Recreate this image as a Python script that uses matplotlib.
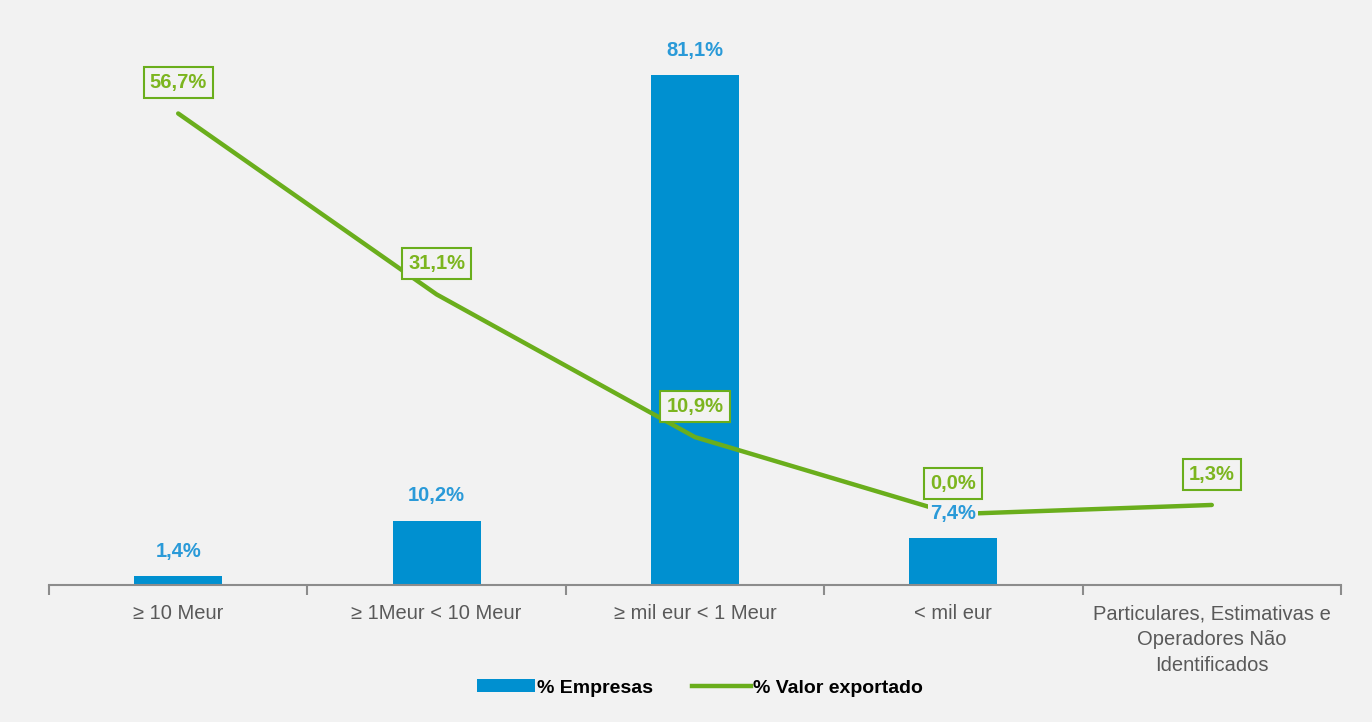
import matplotlib.pyplot as plt
import numpy as np
from matplotlib.patches import Patch
from matplotlib.lines import Line2D

# --- data ---
categories = ["\u2265 10 Meur", "\u2265 1Meur < 10 Meur", "\u2265 mil eur < 1 Meur", "< mil eur",
              "Particulares, Estimativas e\nOperadores N\u00e3o\nIdentificados"]
empresas = [1.4, 10.2, 81.1, 7.4, None]
valor_exportado = [56.7, 31.1, 10.9, 0.0, 1.3]

BG = "#f2f2f2"
BLUE = "#0090d0"
BLUE_TXT = "#2a9ad8"
GREEN = "#6aae1c"
GREEN_TXT = "#7cb51f"

plt.rcParams['font.family'] = ['Liberation Sans', 'DejaVu Sans']

fig = plt.figure(figsize=(13.72, 7.22), dpi=100, facecolor=BG)
ax = fig.add_axes([0.0357, 0.19, 0.9417, 0.783])
ax.set_facecolor(BG)
ax2 = ax.twinx()

x = np.arange(len(categories))
bar_x = [i for i, v in enumerate(empresas) if v is not None]
bar_v = [v for v in empresas if v is not None]
ax.bar(bar_x, bar_v, width=0.34, color=BLUE, zorder=2)

ax.set_xlim(-0.5, len(categories) - 0.5)
ax.set_ylim(0, 90)
ax2.set_ylim(-10, 70)

ax2.plot(x, valor_exportado, color=GREEN, linewidth=3.2, solid_capstyle='round', zorder=3)

# bar labels (drawn on ax2 so they sit above the line)
for xi, v in zip(bar_x, bar_v):
    y2 = ax2.transData.inverted().transform(ax.transData.transform((xi, v)))[1]
    ax2.annotate(f"{v:.1f}%".replace(".", ","), xy=(xi, y2),
                 xytext=(0, 11), textcoords="offset points", ha="center", va="bottom",
                 fontsize=14.5, fontweight="bold", color=BLUE_TXT, zorder=6,
                 bbox=dict(boxstyle="square,pad=0.1", fc=BG, ec="none"))

# line labels
for xi, v in zip(x, valor_exportado):
    ax2.annotate(f"{v:.1f}%".replace(".", ","), xy=(xi, v), xytext=(0, 22),
                 textcoords="offset points", ha="center", va="center",
                 fontsize=14.5, fontweight="bold", color=GREEN_TXT, zorder=7,
                 bbox=dict(boxstyle="square,pad=0.3", fc=BG, ec=GREEN, lw=1.5))

# axes styling
for a in (ax, ax2):
    for s in ("top", "right", "left"):
        a.spines[s].set_visible(False)
    a.set_yticks([])
ax2.spines["bottom"].set_visible(False)
ax.spines["bottom"].set_color("#8c8c8c")
ax.spines["bottom"].set_linewidth(1.5)

ax.set_xticks(np.arange(-0.5, len(categories), 1.0))
ax.set_xticklabels([])
ax.tick_params(axis="x", which="major", length=7, color="#8c8c8c", width=1.5, direction="out")
ax.set_xticks(x, minor=True)
ax.set_xticklabels(categories, minor=True, fontsize=14.5, color="#595959", linespacing=1.45)
ax.tick_params(axis="x", which="minor", length=0, pad=14)

# legend
handles = [Patch(facecolor=BLUE, label="% Empresas"),
           Line2D([0], [0], color=GREEN, lw=3.2, label="% Valor exportado")]
fig.legend(handles=handles, loc="center", bbox_to_anchor=(0.51, 0.047), ncol=2,
           frameon=False, handlelength=3.0, handleheight=0.65, handletextpad=0.1,
           columnspacing=2.0, prop={"size": 14, "weight": "bold"})

plt.savefig("out.png", dpi=100, facecolor=BG)
